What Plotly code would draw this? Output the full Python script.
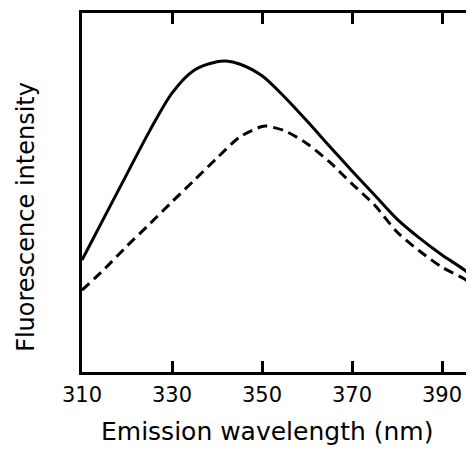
import plotly.graph_objects as go

# Emission wavelength (nm)
wavelength_solid = [310, 315, 320, 325, 330, 335, 340, 342, 345, 350, 355, 360, 365, 370, 375, 380, 385, 390, 395, 397]
# relative fluorescence intensity (arbitrary units, 0-100)
intensity_solid = [31.2, 43.2, 55.2, 67.1, 77.7, 84.1, 86.4, 86.6, 85.8, 82.5, 76.6, 69.9, 62.9, 56.0, 49.3, 42.6, 37.3, 32.6, 28.4, 26.2]

wavelength_dashed = [310, 315, 320, 325, 330, 335, 340, 345, 350, 351, 355, 360, 365, 370, 375, 380, 385, 390, 395, 397]
intensity_dashed = [22.8, 28.7, 35.1, 41.2, 47.4, 53.5, 59.6, 65.4, 68.4, 68.5, 67.2, 63.6, 58.5, 52.4, 46.5, 39.0, 33.7, 29.2, 25.9, 24.2]

tick_vals = [310, 330, 350, 370, 390]
tick_text = ["310", "330", "350", "370", "390"]

fig = go.Figure()
fig.add_trace(go.Scatter(x=wavelength_solid, y=intensity_solid, mode="lines",
                         line=dict(color="black", width=3, shape="spline", smoothing=0.8),
                         showlegend=False))
fig.add_trace(go.Scatter(x=wavelength_dashed, y=intensity_dashed, mode="lines",
                         line=dict(color="black", width=3, dash="10px,6px", shape="spline", smoothing=0.8),
                         showlegend=False))

# page body has an 8px margin; figure is sized so that the plot lands where the reference has it
fig.update_layout(
    width=466, height=444,
    margin=dict(l=74, r=0, t=5, b=80),
    paper_bgcolor="white", plot_bgcolor="white",
    font=dict(family="DejaVu Sans", color="black"),
    xaxis=dict(range=[310, 397.1], showline=True, linecolor="black", linewidth=3,
               mirror="ticks", ticks="inside", ticklen=11, tickwidth=3, tickcolor="black",
               tickvals=tick_vals, ticktext=tick_text, tickfont=dict(size=21),
               ticklabelstandoff=2, showgrid=False, zeroline=False),
    yaxis=dict(range=[0, 100], showline=True, linecolor="black", linewidth=3,
               mirror=False, ticks="", showticklabels=False, showgrid=False, zeroline=False),
    annotations=[
        dict(text="Emission wavelength (nm)", xref="paper", yref="paper",
             x=0.472, y=-0.165, xanchor="center", yanchor="middle",
             showarrow=False, font=dict(size=25, family="DejaVu Sans")),
        dict(text="Fluorescence intensity", xref="paper", yref="paper",
             x=-0.143, y=0.432, xanchor="center", yanchor="middle", textangle=-90,
             showarrow=False, font=dict(size=24, family="DejaVu Sans")),
    ],
)

fig.write_html("out.html")
